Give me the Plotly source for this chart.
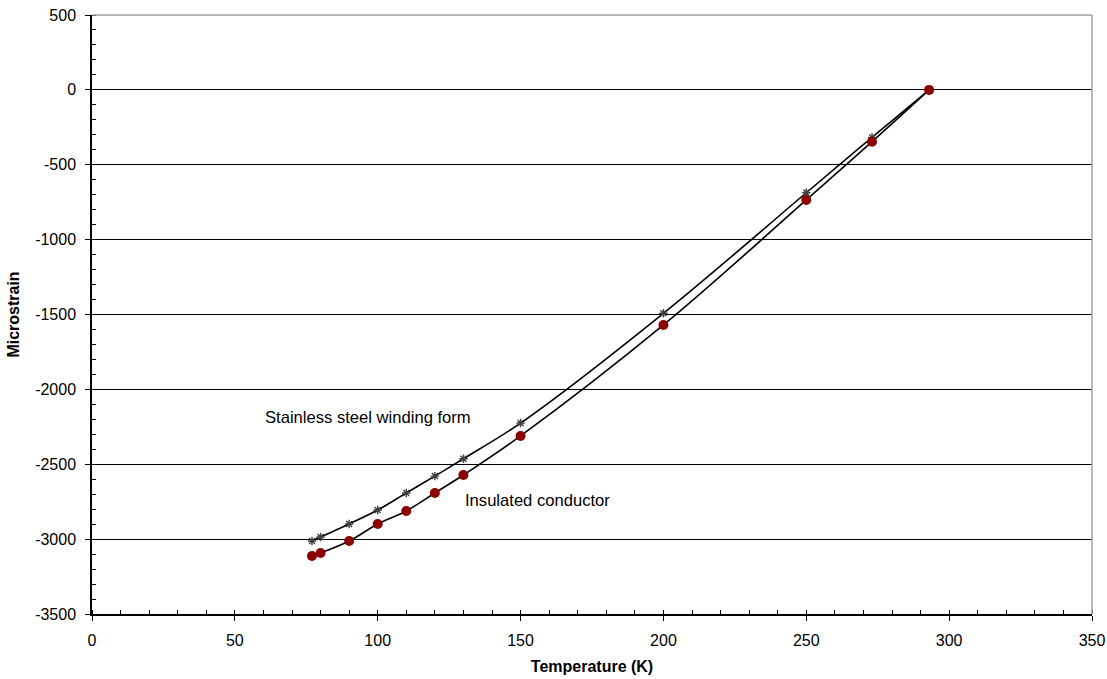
import plotly.graph_objects as go

temps = [77, 80, 90, 100, 110, 120, 130, 150, 200, 250, 273, 293]
steel = [-3013, -2986, -2899, -2806, -2692, -2579, -2463, -2225, -1492, -687, -317, 0]
conductor = [-3113, -3093, -3013, -2899, -2812, -2692, -2572, -2311, -1570, -735, -346, 0]

y_tick_vals = [500, 0, -500, -1000, -1500, -2000, -2500, -3000, -3500]
y_tick_text = ["500", "0", "-500", "-1000", "-1500", "-2000", "-2500", "-3000", "-3500"]
x_tick_vals = [0, 50, 100, 150, 200, 250, 300, 350]
x_tick_text = ["0", "50", "100", "150", "200", "250", "300", "350"]

font_family = "Liberation Sans, Arial, sans-serif"
FS = 16

fig = go.Figure()
fig.add_trace(go.Scatter(
    x=temps, y=steel, mode="lines", line=dict(color="black", width=1.6, shape="spline", smoothing=1.0),
    showlegend=False, hoverinfo="skip"))
fig.add_trace(go.Scatter(
    x=temps, y=conductor, mode="lines", line=dict(color="black", width=1.6, shape="spline", smoothing=1.0),
    showlegend=False, hoverinfo="skip"))
fig.add_trace(go.Scatter(
    x=temps, y=steel, mode="markers", name="Stainless steel winding form",
    marker=dict(symbol="asterisk-open", size=7, color="#404040", line=dict(color="#404040", width=1.4)),
    showlegend=False))
fig.add_trace(go.Scatter(
    x=temps, y=conductor, mode="markers", name="Insulated conductor",
    marker=dict(symbol="circle", size=10, color="#8B0000", line=dict(width=0)),
    showlegend=False))

fig.add_annotation(x=59.7, y=-2191, text="Stainless steel winding form", showarrow=False,
                   xanchor="left", yanchor="middle", font=dict(family=font_family, size=16.6, color="black"))
fig.add_annotation(x=130, y=-2739, text="Insulated conductor", showarrow=False,
                   xanchor="left", yanchor="middle", font=dict(family=font_family, size=16.6, color="black"))

# gray plot-area border on top and right
fig.add_shape(type="line", xref="paper", yref="paper", x0=0, x1=1, y0=1, y1=1,
              line=dict(color="#A0A0A0", width=1.5), layer="above")
fig.add_shape(type="line", xref="paper", yref="paper", x0=1, x1=1, y0=0, y1=1,
              line=dict(color="#A0A0A0", width=1.5), layer="above")

fig.update_layout(
    width=1107, height=679,
    margin=dict(l=92, r=15, t=15, b=65, autoexpand=False),
    paper_bgcolor="white", plot_bgcolor="white",
    font=dict(family=font_family, size=FS, color="black"),
    xaxis=dict(
        range=[0, 350], tickmode="array", tickvals=x_tick_vals, ticktext=x_tick_text,
        showline=True, linecolor="black", linewidth=1.5, automargin=False,
        ticks="outside", ticklen=5, tickcolor="black", tickwidth=1,
        ticklabelstandoff=6, ticklabeloverflow="allow",
        showgrid=False, zeroline=False,
        minor=dict(dtick=10, tick0=0, ticks="inside", ticklen=4, tickcolor="black", showgrid=False),
        title=dict(text="<b>Temperature (K)</b>", font=dict(size=FS), standoff=13),
        tickfont=dict(size=FS),
    ),
    yaxis=dict(
        range=[-3500, 500], tickmode="array", tickvals=y_tick_vals, ticktext=y_tick_text,
        showline=True, linecolor="black", linewidth=1.5, automargin=False,
        ticks="outside", ticklen=5, tickcolor="black", tickwidth=1,
        ticklabelstandoff=6, ticklabeloverflow="allow",
        showgrid=True, gridcolor="black", gridwidth=1, zeroline=False,
        minor=dict(dtick=100, tick0=0, ticks="inside", ticklen=4, tickcolor="black", showgrid=False),
        title=dict(text="<b>Microstrain</b>", font=dict(size=FS), standoff=12),
        tickfont=dict(size=FS),
    ),
)

fig.write_html(
    "out.html",
    config={"displayModeBar": False},
    post_script="document.body.style.margin='0';document.body.style.overflow='hidden';",
)
